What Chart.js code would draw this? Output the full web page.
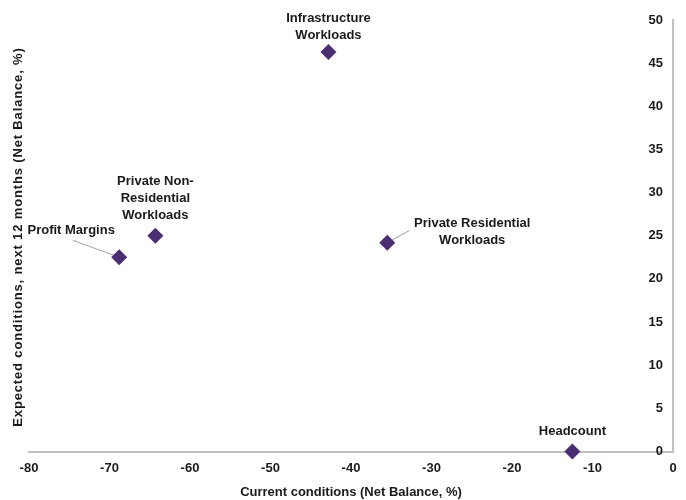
<!DOCTYPE html>
<html>
<head>
<meta charset="utf-8">
<script src="https://cdn.jsdelivr.net/npm/chart.js@4/dist/chart.umd.min.js"></script>
<style>
  html, body { margin: 0; padding: 0; background: #fff; }
  #wrap { width: 686px; height: 500px; position: relative; }
</style>
</head>
<body>
<div id="wrap"><canvas id="chart"></canvas></div>
<script>
'use strict';

// data
const pointNames = ['Infrastructure\nWorkloads', 'Private Non-\nResidential\nWorkloads', 'Profit Margins', 'Private Residential\nWorkloads', 'Headcount'];
const currentVals = [-42.8, -64.3, -68.8, -35.5, -12.5];
const expectedVals = [46.3, 25.0, 22.5, 24.2, 0];

const xTitle = 'Current conditions (Net Balance, %)';
const yTitle = 'Expected conditions, next 12 months (Net Balance, %)';

const FONT = "'Liberation Sans', Arial, sans-serif";
const textColor = '#1a1a1a';
const markColor = '#4b2d72';
const axisColor = '#c0c0c0';

// label placement relative to each point (px): centre of last line, leader end
const labelStyle = [
  { dx: 0,   dy: -17 },
  { dx: 0,   dy: -20 },
  { dx: -48, dy: -27, leader: [-46, -17] },
  { dx: 85,  dy: -2,  leader: [22, -12] },
  { dx: 0,   dy: -20 }
];

const pointLabels = {
  id: 'pointLabels',
  beforeDatasetsDraw(chart) {
    // rotated title on the left for the right-hand value axis
    const { ctx } = chart;
    ctx.save();
    ctx.translate(18, 237);
    ctx.rotate(-Math.PI / 2);
    ctx.font = 'bold 13px ' + FONT;
    ctx.letterSpacing = '0.85px';
    ctx.fillStyle = textColor;
    ctx.textAlign = 'center';
    ctx.textBaseline = 'middle';
    ctx.fillText(yTitle, 0, 0);
    ctx.restore();

    // leader lines
    const { x, y } = chart.scales;
    ctx.save();
    ctx.strokeStyle = '#a0a0a0';
    ctx.lineWidth = 1;
    labelStyle.forEach((st, i) => {
      if (!st.leader) return;
      const px = x.getPixelForValue(currentVals[i]);
      const py = y.getPixelForValue(expectedVals[i]);
      ctx.beginPath();
      ctx.moveTo(px + st.leader[0], py + st.leader[1]);
      ctx.lineTo(px, py);
      ctx.stroke();
    });
    ctx.restore();
  },
  afterDatasetsDraw(chart) {
    const { ctx, scales: { x, y } } = chart;
    ctx.save();
    ctx.font = 'bold 13px ' + FONT;
    ctx.fillStyle = textColor;
    ctx.textAlign = 'center';
    ctx.textBaseline = 'middle';
    pointNames.forEach((name, i) => {
      const px = x.getPixelForValue(currentVals[i]);
      const py = y.getPixelForValue(expectedVals[i]);
      const st = labelStyle[i];
      const lines = name.split('\n');
      lines.forEach((ln, k) => {
        const ly = py + st.dy - (lines.length - 1 - k) * 17;
        ctx.fillText(ln, px + st.dx, ly);
      });
    });
    ctx.restore();
  }
};

const ctx = document.getElementById('chart').getContext('2d');
new Chart(ctx, {
  type: 'scatter',
  data: {
    datasets: [{
      data: currentVals.map((v, i) => ({ x: v, y: expectedVals[i] })),
      pointStyle: 'rectRot',
      pointRadius: 8,
      pointHoverRadius: 8,
      backgroundColor: markColor,
      borderColor: markColor,
      borderWidth: 0,
      clip: false
    }]
  },
  options: {
    responsive: true, maintainAspectRatio: false,
    animation: false,
    layout: { padding: { left: 29, top: 20, right: 13, bottom: 0 } },
    plugins: { legend: { display: false }, tooltip: { enabled: false } },
    scales: {
      x: {
        type: 'linear', position: 'bottom',
        min: -80, max: 0,
        afterFit: s => { s.height = 48.5; },
        grid: { display: false, drawTicks: false },
        border: { display: true, color: axisColor, width: 2 },
        ticks: { stepSize: 10, padding: 9, color: textColor, font: { family: FONT, size: 13, weight: 'bold' } },
        title: { display: true, text: xTitle, color: textColor, padding: { top: 2, bottom: 0 }, font: { family: FONT, size: 13, weight: 'bold' } }
      },
      y: {
        type: 'linear', position: 'right',
        min: 0, max: 50,
        afterFit: s => { s.width = 0; },
        grid: { display: false, drawTicks: false },
        border: { display: true, color: axisColor, width: 2 },
        ticks: { stepSize: 5, mirror: true, padding: -10, color: textColor, font: { family: FONT, size: 13, weight: 'bold' } }
      }
    }
  },
  plugins: [pointLabels]
});
</script>
</body>
</html>
